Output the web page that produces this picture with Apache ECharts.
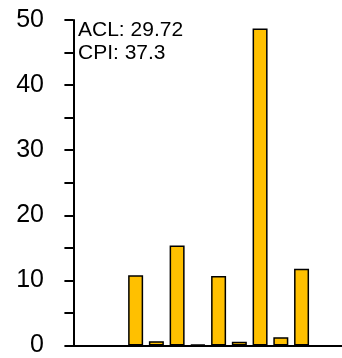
<!DOCTYPE html>
<html>
<head>
<meta charset="utf-8">
<script src="https://cdn.jsdelivr.net/npm/echarts@6/dist/echarts.min.js"></script>
<style>html,body{margin:0;padding:0;background:#fff;}#c{width:342px;height:358px;}</style>
</head>
<body>
<div id="c"></div>
<script>
var xPositions = [0, 1, 2, 3, 4, 5, 6, 7, 8, 9, 10, 11];
var values = [0, 0, 0, 10.8, 0.67, 15.35, 0.12, 10.67, 0.57, 48.7, 1.28, 11.8];
var yTicks = [0, 10, 20, 30, 40, 50];
var annotations = ['ACL: 29.72', 'CPI: 37.3'];

var chart = echarts.init(document.getElementById('c'));
var data = xPositions.map(function (x, i) {
  return values[i] > 0 ? [x, values[i]] : [x, null];
});
chart.setOption({
  animation: false,
  grid: { left: 73, right: 0, top: 20, bottom: 11.3, containLabel: false },
  xAxis: {
    type: 'value', min: -0.02, max: 12.95,
    axisLine: { show: true, onZero: false, lineStyle: { color: '#000', width: 2 } },
    axisTick: { show: false }, axisLabel: { show: false }, splitLine: { show: false }
  },
  yAxis: {
    type: 'value', min: 0, max: 50, interval: 5,
    axisLine: { show: true, lineStyle: { color: '#000', width: 2 } },
    axisTick: { show: true, length: 9, lineStyle: { color: '#000', width: 2 } },
    axisLabel: {
      margin: 29, color: '#000', fontSize: 25, fontFamily: 'Liberation Sans, Arial, sans-serif',
      verticalAlign: 'middle', padding: [3, 0, 0, 0],
      formatter: function (v) { return yTicks.indexOf(v) >= 0 ? String(v) : ''; }
    },
    splitLine: { show: false }
  },
  series: [{
    type: 'bar', data: data, barWidth: 15,
    itemStyle: { color: '#FFC000', borderColor: '#000', borderWidth: 1.5 }
  }],
  graphic: annotations.map(function (t, i) {
    return {
      type: 'text', x: 78, y: 30 + i * 23.4,
      style: { text: t, fill: '#000', fontSize: 21, fontFamily: 'Liberation Sans, Arial, sans-serif', verticalAlign: 'middle', align: 'left' }
    };
  })
});
</script>
</body>
</html>
